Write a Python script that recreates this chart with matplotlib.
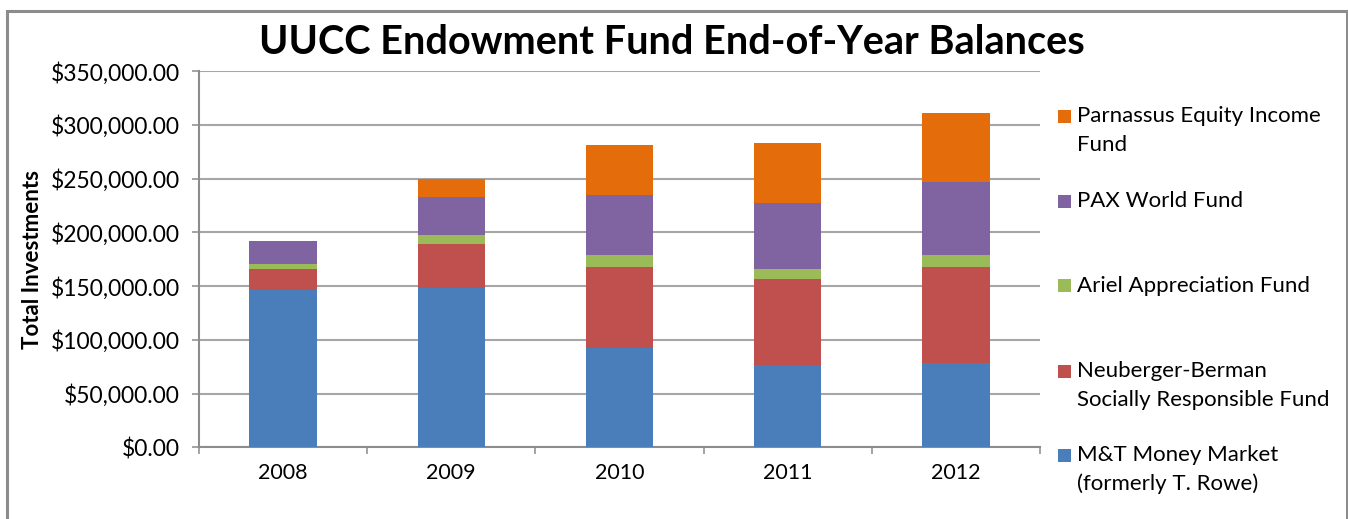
import matplotlib
matplotlib.use("Agg")
import matplotlib.pyplot as plt
from matplotlib.patches import Rectangle
from matplotlib.ticker import FuncFormatter
import numpy as np

years = ["2008", "2009", "2010", "2011", "2012"]
series_names = [
    "M&T Money Market\n(formerly T. Rowe)",
    "Neuberger-Berman\nSocially Responsible Fund",
    "Ariel Appreciation Fund",
    "PAX World Fund",
    "Parnassus Equity Income\nFund",
]
mt_money_market = [146100, 148300, 92700, 76300, 78500]
neuberger_berman = [19500, 41200, 75100, 80600, 89300]
ariel_appreciation = [5200, 7800, 11200, 8800, 11200]
pax_world = [20800, 35700, 56100, 61700, 68200]
parnassus = [0, 17000, 46600, 55600, 64300]
colors = ["#4A7EBB", "#C0504D", "#9BBB59", "#8064A2", "#E46C0A"]

plt.rcParams['font.family'] = ['Lato', 'DejaVu Sans']

W, H = 1348, 519
fig = plt.figure(figsize=(W / 100, H / 100), dpi=100)

# outer chart frame
fig.patches.append(Rectangle((7 / W, -0.05), (1346.5 - 7) / W, 1.05 - 10.5 / H,
                             transform=fig.transFigure, fill=False,
                             edgecolor="#8c8c8c", linewidth=2.2))

ax = fig.add_axes([199 / W, (H - 447.3) / H, (1040 - 199) / W, (447.3 - 71.3) / H])

data = [mt_money_market, neuberger_berman, ariel_appreciation, pax_world, parnassus]
x = np.arange(len(years))
bottom = np.zeros(len(years))
for vals, c in zip(data, colors):
    ax.bar(x, vals, width=0.40, bottom=bottom, color=c, edgecolor="none", zorder=3)
    bottom += np.array(vals)

ax.set_xlim(-0.5, len(years) - 0.5)
ax.set_ylim(0, 350000)
ax.set_yticks(np.arange(0, 350001, 50000))
ax.yaxis.set_major_formatter(FuncFormatter(lambda v, p: "${:,.2f}".format(v)))
ax.set_xticks(x)
ax.set_xticklabels(years)
ax.set_xticks(np.arange(-0.5, len(years)), minor=True)
ax.tick_params(axis="x", which="major", length=0, pad=11, labelsize=15.5, colors="#000000")
ax.tick_params(axis="x", which="minor", length=5, width=1.1, color="#8c8c8c", direction="out")
ax.tick_params(axis="y", length=5, width=1.1, color="#8c8c8c", direction="out",
               labelsize=16.5, pad=9)
ax.grid(axis="y", color="#a6a6a6", linewidth=1.5, zorder=0)
for s in ["top", "right"]:
    ax.spines[s].set_visible(False)
for s in ["left", "bottom"]:
    ax.spines[s].set_color("#8c8c8c")
    ax.spines[s].set_linewidth(1.5)

ax.set_ylabel("Total Investments", fontsize=16, fontweight="bold")
ax.yaxis.set_label_coords((43 - 199) / 841, 0.5)

fig.text(672 / W, 1 - 42 / H, "UUCC Endowment Fund End-of-Year Balances",
         ha="center", va="center", fontsize=28.5, fontweight="bold")

# legend (top to bottom: reversed stacking order)
legend_y = [116.5, 201, 285.7, 371, 455]
line_gap = 28.5
for name, c, y in zip(series_names[::-1], colors[::-1], legend_y):
    fig.patches.append(Rectangle((1058 / W, 1 - (y + 6.5) / H), 13 / W, 13 / H,
                                 transform=fig.transFigure, facecolor=c, edgecolor="none"))
    for i, line in enumerate(name.split("\n")):
        fig.text(1077 / W, 1 - (y + i * line_gap) / H, line, ha="left", va="center",
                 fontsize=16, color="#000000")

fig.savefig("out.png", dpi=100)
